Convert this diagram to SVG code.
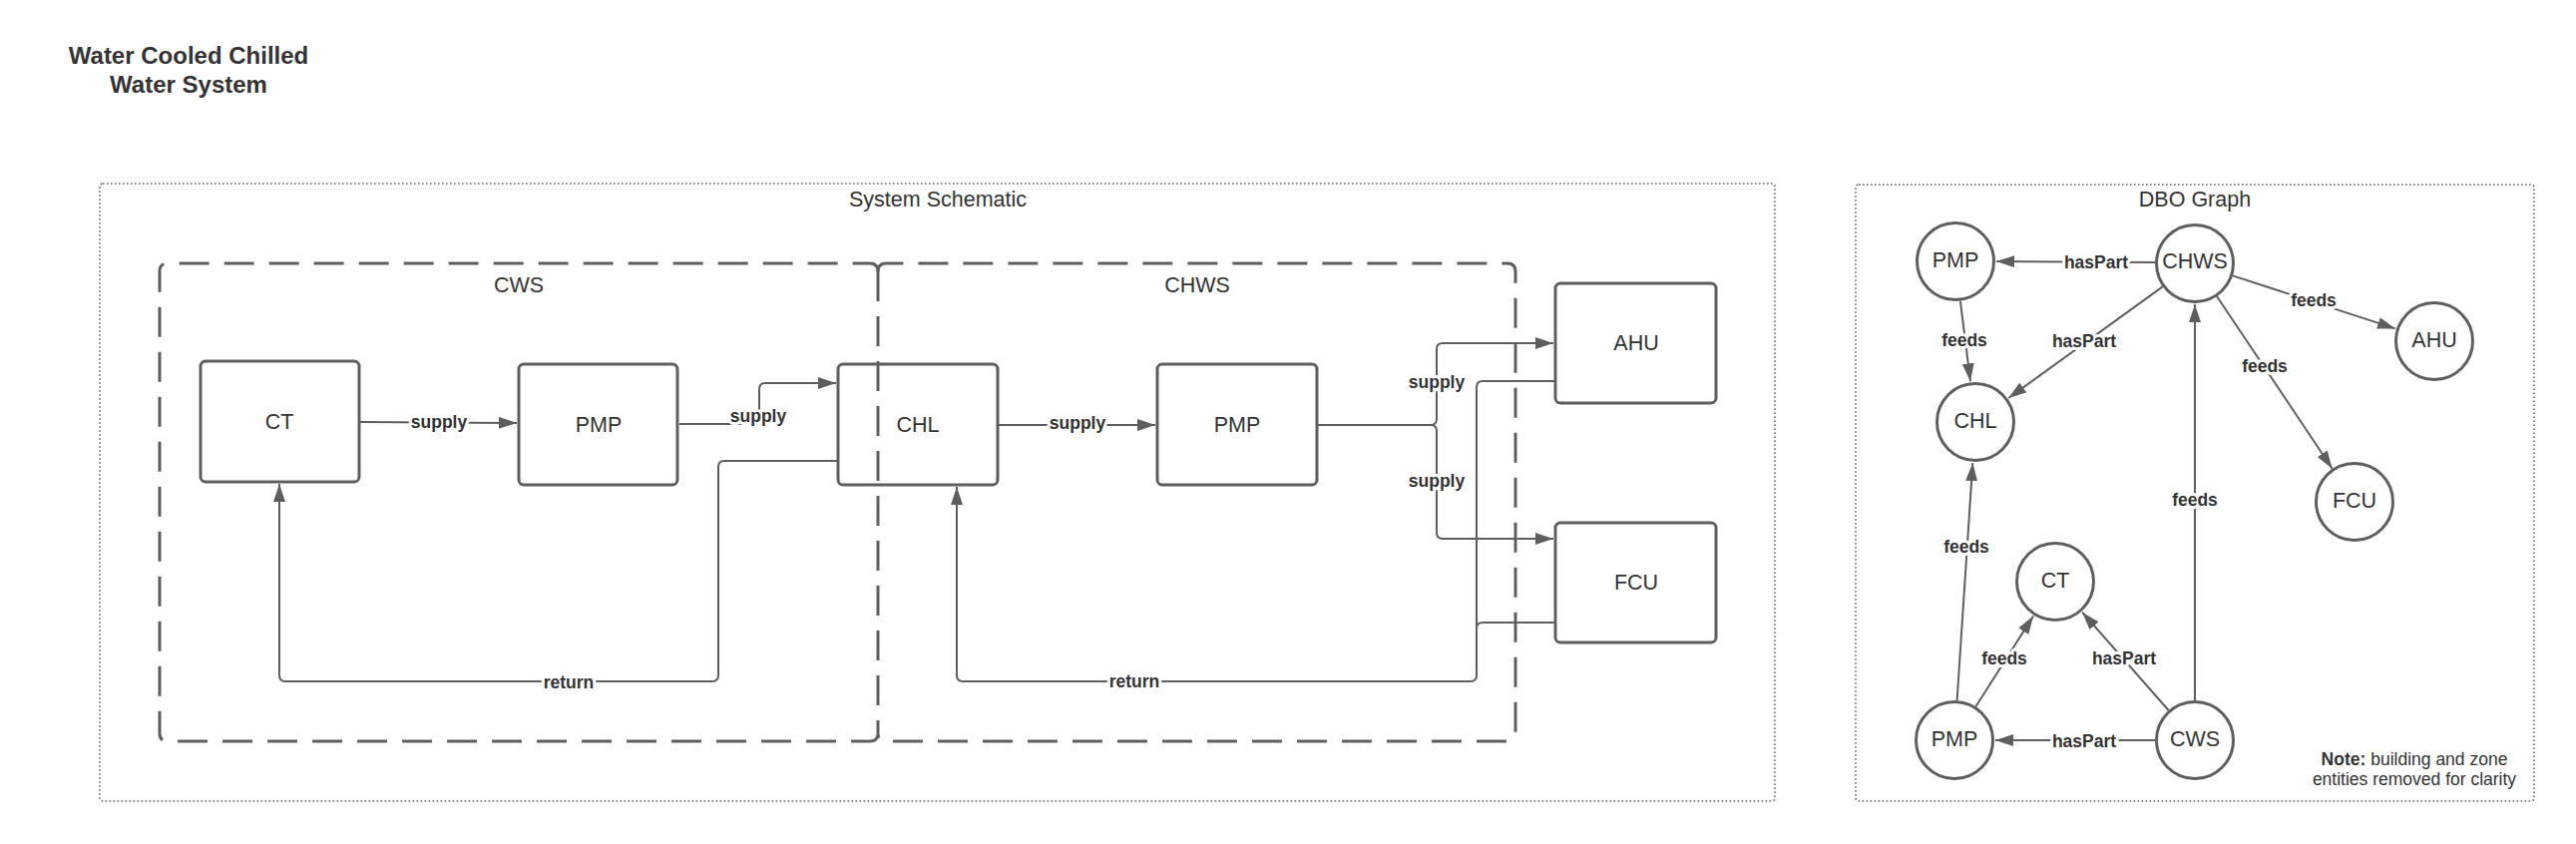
<svg xmlns="http://www.w3.org/2000/svg" width="2582" height="846" viewBox="0 0 2582 846">
<style>
  .title { font: bold 24px "Liberation Sans", Arial, sans-serif; fill: #333; text-anchor: middle; }
  .cap { font: 21.5px "Liberation Sans", Arial, sans-serif; fill: #333; text-anchor: middle; }
  .node rect, .node circle { fill: #fff; stroke: #5e5e5e; stroke-width: 3; }
  .node text { font: 21.5px "Liberation Sans", Arial, sans-serif; fill: #333; text-anchor: middle; }
  .frame { fill: none; stroke: #5e5e5e; stroke-width: 1.6; stroke-dasharray: 1.6 2.4; }
  .grp { fill: none; stroke: #5e5e5e; stroke-width: 3; stroke-dasharray: 30 15; }
  .conn path { fill: none; stroke: #5e5e5e; stroke-width: 2; }
  .arr { marker-end: url(#arr); }
  .lbl { font: bold 17.5px "Liberation Sans", Arial, sans-serif; fill: #333; text-anchor: middle; paint-order: stroke; stroke: #fff; stroke-width: 6px; stroke-linejoin: round; }
  .note { font: 17.5px "Liberation Sans", Arial, sans-serif; fill: #333; text-anchor: middle; }
</style>
<defs>
  <marker id="arr" markerUnits="userSpaceOnUse" markerWidth="19" markerHeight="12" refX="18" refY="6" orient="auto">
    <path d="M0,0 L18,6 L0,12 z" fill="#5e5e5e"/>
  </marker>
</defs>
<rect x="0" y="0" width="2582" height="846" fill="#fff"/>

<g id="title">
  <text class="title" x="189" y="64">Water Cooled Chilled</text>
  <text class="title" x="189" y="93">Water System</text>
</g>

<g id="system-schematic">
  <rect class="frame" x="100" y="184" width="1679" height="619" rx="3"/>
  <text class="cap" x="940" y="207">System Schematic</text>
</g>
<g id="dbo-graph">
  <rect class="frame" x="1860" y="185" width="680" height="618" rx="3"/>
  <text class="cap" x="2200" y="207">DBO Graph</text>
</g>

<g class="conn" id="connectors">
  <!-- schematic -->
  <path class="arr" d="M361,423 L518,424"/>
  <path class="arr" d="M681,425 H755 Q761,425 761,419 V390 Q761,384 767,384 H838"/>
  <path class="arr" d="M1001,426 H1158"/>
  <path class="arr" d="M1321,426 H1434 Q1440,426 1440,420 V350 Q1440,344 1446,344 H1557"/>
  <path class="arr" d="M1321,426 H1434 Q1440,426 1440,432 V534 Q1440,540 1446,540 H1557"/>
  <path class="arr" d="M839,462 H726 Q720,462 720,468 V677 Q720,683 714,683 H286 Q280,683 280,677 V485"/>
  <path class="arr" d="M1558,382 H1486 Q1480,382 1480,388 V677 Q1480,683 1474,683 H965 Q959,683 959,677 V488"/>
  <path d="M1558,624 H1486 Q1480,624 1480,630"/>
  <text class="lbl" x="440" y="429">supply</text>
  <text class="lbl" x="760" y="423">supply</text>
  <text class="lbl" x="1080" y="430">supply</text>
  <text class="lbl" x="1440" y="389">supply</text>
  <text class="lbl" x="1440" y="488">supply</text>
  <text class="lbl" x="570" y="690">return</text>
  <text class="lbl" x="1137" y="689">return</text>

  <!-- DBO graph -->
  <path class="arr" d="M2160,263 L2001,262"/>
  <path class="arr" d="M2167.6,287.4 L2013.2,399"/>
  <path class="arr" d="M1964.9,301.7 L1975,382.3"/>
  <path class="arr" d="M2238,276.4 L2401,329.4"/>
  <path class="arr" d="M2222,297 L2337.7,469.7"/>
  <path class="arr" d="M2200,702 L2200,305"/>
  <path class="arr" d="M1961.6,702 L1977.3,464.1"/>
  <path class="arr" d="M1980.4,708.2 L2038,617.6"/>
  <path class="arr" d="M2173.6,712 L2087.1,613.7"/>
  <path class="arr" d="M2160,742 L2000,742"/>
  <text class="lbl" x="2101" y="269">hasPart</text>
  <text class="lbl" x="2089" y="348">hasPart</text>
  <text class="lbl" x="1969" y="347">feeds</text>
  <text class="lbl" x="2319" y="307">feeds</text>
  <text class="lbl" x="2270" y="373">feeds</text>
  <text class="lbl" x="2200" y="507">feeds</text>
  <text class="lbl" x="1971" y="554">feeds</text>
  <text class="lbl" x="2009" y="666">feeds</text>
  <text class="lbl" x="2129" y="666">hasPart</text>
  <text class="lbl" x="2089" y="749">hasPart</text>
</g>

<!-- schematic nodes -->
<g class="node" id="ct-box"><rect x="201" y="362" width="159" height="121" rx="5"/><text x="280" y="430">CT</text></g>
<g class="node" id="pmp-cws-box"><rect x="520" y="365" width="159" height="121" rx="5"/><text x="600" y="433">PMP</text></g>
<g class="node" id="chl-box"><rect x="840" y="365" width="160" height="121" rx="5"/><text x="920" y="433">CHL</text></g>
<g class="node" id="pmp-chws-box"><rect x="1160" y="365" width="160" height="121" rx="5"/><text x="1240" y="433">PMP</text></g>
<g class="node" id="ahu-box"><rect x="1559" y="284" width="161" height="120" rx="5"/><text x="1640" y="351">AHU</text></g>
<g class="node" id="fcu-box"><rect x="1559" y="524" width="161" height="120" rx="5"/><text x="1640" y="591">FCU</text></g>

<!-- system groups (drawn over boxes, as in the reference) -->
<g id="cws-group">
  <path class="grp" d="M880,272 Q880,264 872,264 H168 Q160,264 160,272 V735 Q160,743 168,743 H872 Q880,743 880,735"/>
  <text class="cap" x="520" y="293">CWS</text>
</g>
<g id="chws-group">
  <path class="grp" d="M880,272 Q880,264 888,264 H1511 Q1519,264 1519,272 V735 Q1519,743 1511,743 H888 Q880,743 880,735"/>
  <path class="grp" d="M880,272 V735"/>
  <text class="cap" x="1200" y="293">CHWS</text>
</g>

<!-- DBO nodes -->
<g class="node" id="pmp-chws-node"><circle cx="1960" cy="262" r="38.5"/><text x="1960" y="268">PMP</text></g>
<g class="node" id="chws-node"><circle cx="2200" cy="264" r="38.5"/><text x="2200" y="269">CHWS</text></g>
<g class="node" id="chl-node"><circle cx="1980" cy="423" r="38.5"/><text x="1980" y="429">CHL</text></g>
<g class="node" id="ahu-node"><circle cx="2440" cy="342" r="38.5"/><text x="2440" y="348">AHU</text></g>
<g class="node" id="fcu-node"><circle cx="2360" cy="503" r="38.5"/><text x="2360" y="509">FCU</text></g>
<g class="node" id="ct-node"><circle cx="2060" cy="583" r="38.5"/><text x="2060" y="589">CT</text></g>
<g class="node" id="pmp-cws-node"><circle cx="1959" cy="742" r="38.5"/><text x="1959" y="748">PMP</text></g>
<g class="node" id="cws-node"><circle cx="2200" cy="742" r="38.5"/><text x="2200" y="748">CWS</text></g>

<g id="note">
  <text class="note" x="2420" y="767"><tspan font-weight="bold">Note:</tspan> building and zone</text>
  <text class="note" x="2420" y="787">entities removed for clarity</text>
</g>
</svg>
